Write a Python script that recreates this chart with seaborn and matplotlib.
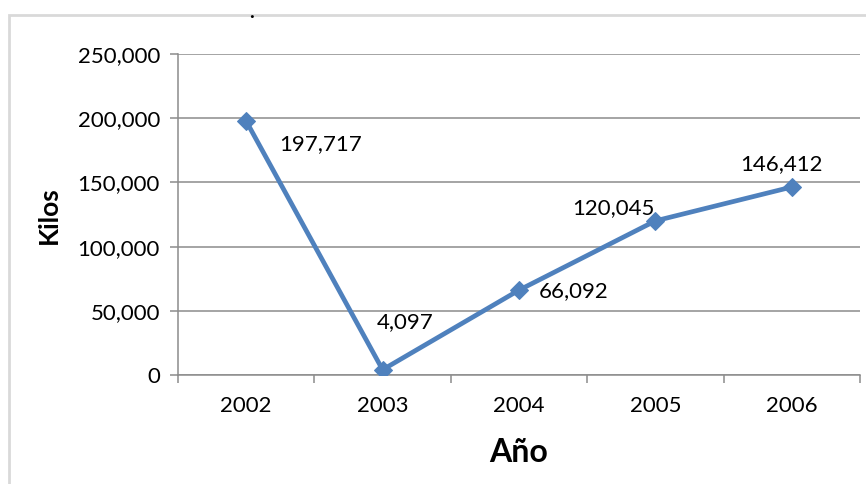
import matplotlib
matplotlib.use("Agg")
import matplotlib.pyplot as plt
import matplotlib.patches as mpatches
from matplotlib.ticker import FuncFormatter, FixedLocator
import seaborn as sns
import pandas as pd

years = ["2002", "2003", "2004", "2005", "2006"]
kilos = [197717, 4097, 66092, 120045, 146412]
# label offsets (pixels) from each marker
label_dx = [74, 23, 55, -42, -10]
label_dy = [-23, 48, -1, 13, 23]

sns.set_theme(style="white")
plt.rcParams["font.family"] = ["Lato", "DejaVu Sans"]

W, H = 866, 484
fig = plt.figure(figsize=(W / 100, H / 100), dpi=100)
ax = fig.add_axes([178 / W, 1 - 375 / H, (860 - 178) / W, (375 - 54) / H])

df = pd.DataFrame({"pos": range(len(years)), "kilos": kilos})
blue = "#4F81BD"
sns.lineplot(data=df, x="pos", y="kilos", ax=ax, color=blue, linewidth=3.4,
             marker="D", markersize=9.5, markeredgecolor=blue, zorder=3)

for i, v in enumerate(kilos):
    ax.annotate(f"{v:,}", (i, v), xytext=(label_dx[i], label_dy[i]),
                textcoords="offset pixels", ha="center", va="center",
                fontsize=16, color="black", zorder=4)

ax.set_xlim(-0.5, len(years) - 0.5)
ax.set_ylim(0, 250000)
ax.set_yticks(range(0, 250001, 50000))
ax.yaxis.set_major_formatter(FuncFormatter(lambda v, p: f"{int(v):,}"))
ax.set_xticks(range(len(years)))
ax.set_xticklabels(years)
ax.xaxis.set_minor_locator(FixedLocator([i - 0.5 for i in range(len(years) + 1)]))

grid_c = "#8C8C8C"
ax.grid(axis="y", color=grid_c, linewidth=1.1)
ax.grid(axis="x", visible=False)
ax.set_axisbelow(True)
for s in ["top", "right"]:
    ax.spines[s].set_visible(False)
for s in ["left", "bottom"]:
    ax.spines[s].set_color(grid_c)
    ax.spines[s].set_linewidth(1.1)

ax.tick_params(axis="y", which="major", left=True, length=6, width=1.1,
               color=grid_c, labelsize=16, pad=7, labelcolor="black")
ax.tick_params(axis="x", which="major", bottom=False, labelsize=16, pad=9,
               labelcolor="black")
ax.tick_params(axis="x", which="minor", bottom=True, length=6, width=1.1,
               color=grid_c)

ax.set_xlabel("Año", fontsize=23, fontweight="bold", color="black")
ax.set_ylabel("Kilos", fontsize=19, fontweight="bold", color="black")
ax.xaxis.set_label_coords((519 - 178) / (860 - 178), -(438 - 375) / (375 - 54))
ax.yaxis.set_label_coords(-(178 - 61) / (860 - 178), (375 - 215) / (375 - 54))

# chart frame, clipped at the top-left corner
frame = mpatches.Rectangle((9 / W, -0.2), 1.2, 1.2 - 15 / H,
                           transform=fig.transFigure, fill=False,
                           edgecolor="#D9D9D9", linewidth=2, zorder=0)
fig.patches.append(frame)
fig.text(252 / W, 1 - 18 / H, ".", fontsize=14, fontweight="bold",
         ha="center", va="baseline", color="black")

fig.savefig("out.png", dpi=100)
